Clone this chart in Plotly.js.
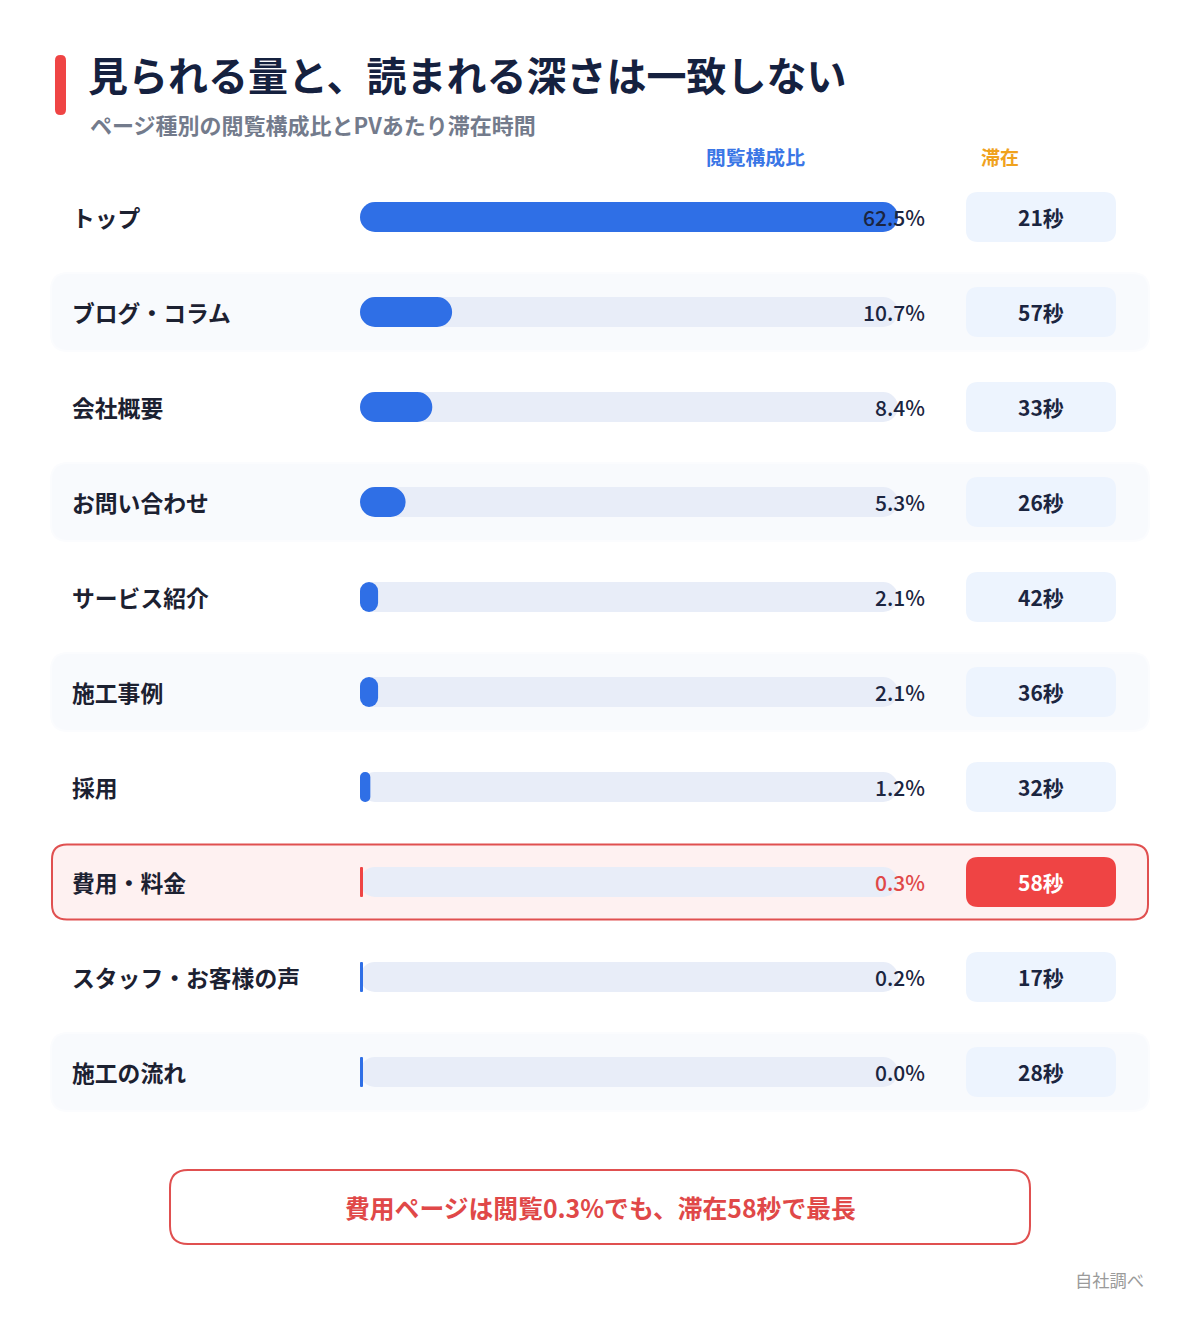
<!DOCTYPE html>
<html><head><meta charset="utf-8">
<script src="https://cdn.plot.ly/plotly-3.0.1.min.js"></script>
<style>html,body{margin:0;padding:0;background:#fff}</style>
</head><body>
<div id="chart" style="width:1200px;height:1320px"></div>
<script>
// ---- data ----
const categories = ["トップ","ブログ・コラム","会社概要","お問い合わせ","サービス紹介","施工事例","採用","費用・料金","スタッフ・お客様の声","施工の流れ"];
const sharePct = [62.5, 10.7, 8.4, 5.3, 2.1, 2.1, 1.2, 0.3, 0.2, 0.0];
const staySec = [21, 57, 33, 26, 42, 36, 32, 58, 17, 28];
const highlightCategory = "費用・料金";
const columnHeaders = ["閲覧構成比", "滞在"];
const titleText = "見られる量と、読まれる深さは一致しない";
const subtitleText = "ページ種別の閲覧構成比とPVあたり滞在時間";
const calloutText = "費用ページは閲覧0.3%でも、滞在58秒で最長";
const sourceText = "自社調べ";

// ---- layout constants ----
const W = 1200, H = 1320;
const ROW0 = 217, STEP = 95;
const BAR_L = 360, BAR_R = 898;
const FONT = "'Noto Sans CJK JP', 'Noto Sans', sans-serif";
const BLUE = "#2f6fe6", RED = "#ef4444", TRACK = "#e8edf8";
const NAVY = "#1b2540";

const scaleMax = Math.max(...sharePct);
const minLen = scaleMax * 3 / (BAR_R - BAR_L);
const disp = sharePct.map(v => Math.max(v, minLen));
const barW = 30 / STEP;

const isHi = categories.map(c => c === highlightCategory);
const barColors = isHi.map(h => h ? RED : BLUE);

function barTrace(len, color, name) {
  return {
    type: "bar", orientation: "h", y: categories, x: len, base: categories.map(() => 0),
    width: barW, marker: {color: color, cornerradius: 15, line: {width: 0}},
    hoverinfo: "skip", showlegend: false, name: name
  };
}
const traces = [
  barTrace(categories.map(() => scaleMax), TRACK, "track"),
  barTrace(disp, barColors, "share")
];

function rowRR(x0, x1, yc, hh, r) {
  const X = p => (p / W).toFixed(5);
  const Y = d => (yc + d / STEP).toFixed(5);
  const t = -hh, b = hh;
  return `M${X(x0 + r)},${Y(t)} H${X(x1 - r)} Q${X(x1)},${Y(t)} ${X(x1)},${Y(t + r)} V${Y(b - r)} Q${X(x1)},${Y(b)} ${X(x1 - r)},${Y(b)} H${X(x0 + r)} Q${X(x0)},${Y(b)} ${X(x0)},${Y(b - r)} V${Y(t + r)} Q${X(x0)},${Y(t)} ${X(x0 + r)},${Y(t)} Z`;
}
function paperRR(x0, y0, x1, y1, r) {
  const X = p => (p / W).toFixed(5);
  const Y = p => (1 - p / H).toFixed(5);
  return `M${X(x0 + r)},${Y(y0)} H${X(x1 - r)} Q${X(x1)},${Y(y0)} ${X(x1)},${Y(y0 + r)} V${Y(y1 - r)} Q${X(x1)},${Y(y1)} ${X(x1 - r)},${Y(y1)} H${X(x0 + r)} Q${X(x0)},${Y(y1)} ${X(x0)},${Y(y1 - r)} V${Y(y0 + r)} Q${X(x0)},${Y(y0)} ${X(x0 + r)},${Y(y0)} Z`;
}

const shapes = [];
shapes.push({type: "path", xref: "paper", yref: "paper", path: paperRR(55, 55, 66, 115, 5.5), fillcolor: RED, line: {width: 0}, layer: "above"});
categories.forEach((c, i) => {
  if (isHi[i]) {
    shapes.push({type: "path", xref: "paper", yref: "y", path: rowRR(52, 1148, i, 37.5, 15), fillcolor: "#fef1f1", line: {color: "#e05050", width: 2}, layer: "below"});
  } else if (i % 2 === 1) {
    shapes.push({type: "path", xref: "paper", yref: "y", path: rowRR(50, 1150, i, 40, 18), fillcolor: "#fbfcfe", line: {width: 0}, layer: "below"});
    shapes.push({type: "path", xref: "paper", yref: "y", path: rowRR(52, 1148, i, 38, 16), fillcolor: "#f8fafd", line: {width: 0}, layer: "below"});
  }
  shapes.push({type: "path", xref: "paper", yref: "y", path: rowRR(966, 1116, i, 25, 12), fillcolor: isHi[i] ? RED : "#edf4fe", line: {width: 0}, layer: "below"});
});
shapes.push({type: "path", xref: "paper", yref: "paper", path: paperRR(170, 1170, 1030, 1244, 18), fillcolor: "#ffffff", line: {color: "#e05050", width: 2}, layer: "below"});

const ann = [];
ann.push({xref: "paper", yref: "paper", x: 88 / W, y: 1 - 124 / H, xanchor: "left", yanchor: "middle", text: subtitleText, showarrow: false, font: {family: FONT, size: 22, color: "#737b8c", weight: 700}});
ann.push({xref: "paper", yref: "paper", x: 755 / W, y: 1 - 157 / H, xanchor: "center", yanchor: "middle", text: columnHeaders[0], showarrow: false, font: {family: FONT, size: 19.8, color: "#3a76e6", weight: 700}});
ann.push({xref: "paper", yref: "paper", x: 1000 / W, y: 1 - 157 / H, xanchor: "center", yanchor: "middle", text: columnHeaders[1], showarrow: false, font: {family: FONT, size: 19, color: "#f0a21e", weight: 700}});
categories.forEach((c, i) => {
  ann.push({xref: "paper", yref: "y", x: 70 / W, y: c, xanchor: "left", yanchor: "middle", text: c, showarrow: false, font: {family: FONT, size: 22.8, color: "#1c2131", weight: 700}});
  ann.push({xref: "paper", yref: "y", x: 927 / W, y: c, xanchor: "right", yanchor: "middle", text: sharePct[i].toFixed(1) + "%", showarrow: false, font: {family: FONT, size: 21, color: isHi[i] ? "#e04848" : NAVY, weight: 500}});
  ann.push({xref: "paper", yref: "y", x: 1041 / W, y: c, xanchor: "center", yanchor: "middle", text: staySec[i] + "秒", showarrow: false, font: {family: FONT, size: 21, color: isHi[i] ? "#ffffff" : NAVY, weight: 700}});
});
ann.push({xref: "paper", yref: "paper", x: 600 / W, y: 1 - 1207 / H, xanchor: "center", yanchor: "middle", text: calloutText, showarrow: false, font: {family: FONT, size: 24.8, color: "#e04848", weight: 700}});
ann.push({xref: "paper", yref: "paper", x: 1146 / W, y: 1 - 1279 / H, xanchor: "right", yanchor: "middle", text: sourceText, showarrow: false, font: {family: FONT, size: 17.3, color: "#9a9a9a"}});

const layout = {
  width: W, height: H,
  margin: {l: 0, r: 0, t: 0, b: 0},
  paper_bgcolor: "#ffffff", plot_bgcolor: "rgba(0,0,0,0)",
  title: {text: titleText, x: 88 / W, xanchor: "left", xref: "paper", y: 1 - 77 / H, yanchor: "middle", yref: "container",
          font: {family: FONT, size: 40, color: "#15213f", weight: 700}},
  barmode: "overlay",
  xaxis: {domain: [BAR_L / W, BAR_R / W], range: [0, scaleMax], visible: false, fixedrange: true},
  yaxis: {type: "category", categoryorder: "array", categoryarray: categories,
          range: [(H - ROW0) / STEP, -ROW0 / STEP], domain: [0, 1], visible: false, fixedrange: true},
  shapes: shapes, annotations: ann, showlegend: false
};
Plotly.newPlot("chart", traces, layout, {displayModeBar: false, staticPlot: true});
</script>
</body></html>
